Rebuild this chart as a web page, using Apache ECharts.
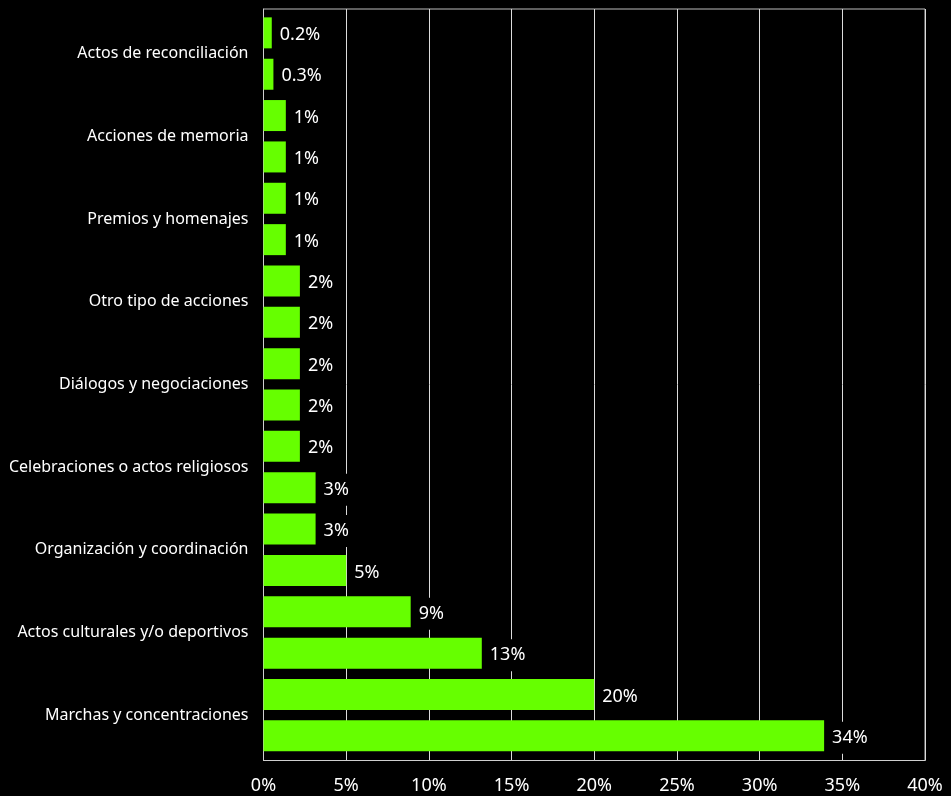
<!DOCTYPE html>
<html>
<head>
<meta charset="utf-8">
<style>
html,body{margin:0;padding:0;background:#000;}
#chart{width:951px;height:796px;}
</style>
<script src="https://cdn.jsdelivr.net/npm/echarts@6/dist/echarts.min.js"></script>
</head>
<body>
<div id="chart"></div>
<script>
// Categories, top to bottom
const categories = [
  'Actos de reconciliación',
  'Acciones de memoria',
  'Premios y homenajes',
  'Otro tipo de acciones',
  'Diálogos y negociaciones',
  'Celebraciones o actos religiosos',
  'Organización y coordinación',
  'Actos culturales y/o deportivos',
  'Marchas y concentraciones'
];
// Upper bar of each pair (bar lengths) and its printed label
const seriesUpper = [0.5, 1.35, 1.35, 2.2, 2.2, 2.2, 3.15, 8.9, 20.0];
const labelsUpper = ['0.2%', '1%', '1%', '2%', '2%', '2%', '3%', '9%', '20%'];
// Lower bar of each pair and its printed label
const seriesLower = [0.6, 1.35, 1.35, 2.2, 2.2, 3.15, 5.0, 13.2, 33.9];
const labelsLower = ['0.3%', '1%', '1%', '2%', '2%', '3%', '5%', '13%', '34%'];
// X axis ticks
const xTicks = [0, 5, 10, 15, 20, 25, 30, 35, 40];

const FONT = 'Noto Sans';
const chart = echarts.init(document.getElementById('chart'));

function labelCfg(texts) {
  return {
    show: true,
    position: 'right',
    distance: 5,
    offset: [0, 2],
    color: '#ffffff',
    fontFamily: FONT,
    fontSize: 18,
    backgroundColor: '#000000',
    padding: [7, 3],
    formatter: p => texts[p.dataIndex]
  };
}

const xMin = xTicks[0], xMax = xTicks[xTicks.length - 1];

chart.setOption({
  backgroundColor: '#000000',
  animation: false,
  grid: [
    { // frame, grid lines, x axis
      left: 263.5, right: 26, top: 9, bottom: 35.5,
      show: true, borderColor: '#bdbdbd', borderWidth: 1, backgroundColor: 'transparent'
    },
    { // bars and category labels
      left: 263.5, right: 26, top: 12.2, bottom: 39.5,
      show: false
    }
  ],
  xAxis: [
    {
      gridIndex: 0,
      type: 'value',
      min: xMin, max: xMax, interval: 5,
      axisLine: { show: true, lineStyle: { color: '#cfcfcf', width: 1 } },
      axisTick: { show: false },
      splitLine: { show: true, lineStyle: { color: '#dcdcdc', width: 1 } },
      axisLabel: {
        color: '#ffffff', fontFamily: FONT, fontSize: 18, margin: 16,
        formatter: v => v + '%'
      }
    },
    {
      gridIndex: 1,
      type: 'value',
      min: xMin, max: xMax, interval: 5,
      show: false,
      splitLine: { show: false }
    }
  ],
  yAxis: [
    {
      gridIndex: 0,
      type: 'category',
      data: categories,
      inverse: true,
      axisLine: { show: true, lineStyle: { color: '#cfcfcf', width: 1 } },
      axisTick: { show: false },
      splitLine: { show: false },
      axisLabel: { show: false }
    },
    {
      gridIndex: 1,
      type: 'category',
      data: categories,
      inverse: true,
      axisLine: { show: false },
      axisTick: { show: false },
      splitLine: { show: false },
      axisLabel: { color: '#ffffff', fontFamily: FONT, fontSize: 16, margin: 15 }
    }
  ],
  series: [
    {
      name: 'upper', type: 'bar', data: seriesUpper,
      xAxisIndex: 1, yAxisIndex: 1,
      barWidth: 31, barGap: '33.5%',
      itemStyle: { color: '#66ff00' },
      label: labelCfg(labelsUpper),
      z: 3
    },
    {
      name: 'lower', type: 'bar', data: seriesLower,
      xAxisIndex: 1, yAxisIndex: 1,
      barWidth: 31, barGap: '33.5%',
      itemStyle: { color: '#66ff00' },
      label: labelCfg(labelsLower),
      z: 3
    }
  ]
});
</script>
</body>
</html>
